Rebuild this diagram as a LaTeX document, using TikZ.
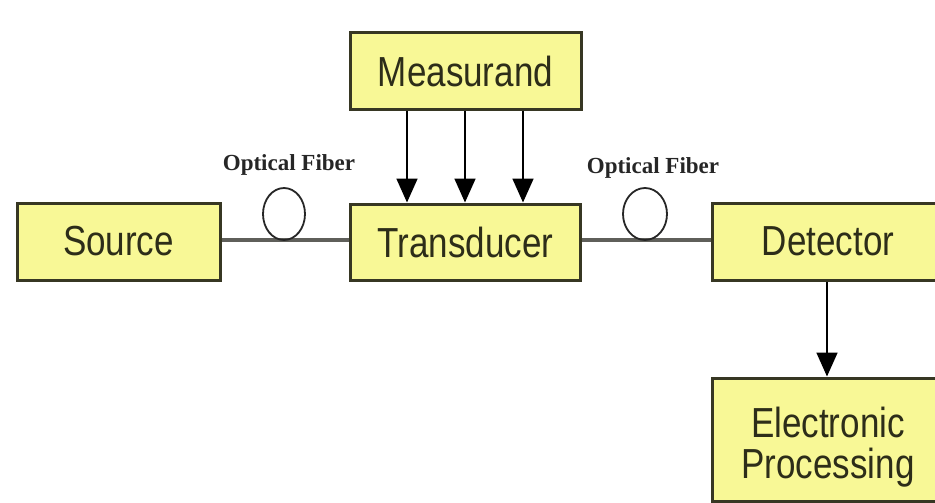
\documentclass[tikz,border=0pt]{standalone}
\usepackage{fontspec}
\setmainfont{Liberation Serif}
\setsansfont{Liberation Sans}
\usetikzlibrary{arrows.meta}
\definecolor{boxfill}{RGB}{248,248,150}
\definecolor{boxline}{RGB}{55,55,35}
\definecolor{boxtext}{RGB}{45,45,25}
\definecolor{fiber}{RGB}{95,95,90}
\tikzset{
  block/.style={draw=boxline, line width=3pt, fill=boxfill, inner sep=0pt,
    text=boxtext, font=\sffamily\fontsize{35}{40}\selectfont, align=center},
  fiberline/.style={draw=fiber, line width=3.6pt},
  loop/.style={draw=black!85, line width=1.8pt},
  flow/.style={draw=black, line width=1.8pt, -{Triangle[length=24pt, width=21pt]}},
  fiberlabel/.style={font=\bfseries\fontsize{23}{26}\selectfont, text=black!85, inner sep=0pt}
}
\newcommand{\tall}[1]{\scalebox{1}[1.2]{#1}}
\begin{document}
\begin{tikzpicture}[x=1pt, y=-1pt]
  \useasboundingbox (0,0) rectangle (935,503);
  \fill[white] (0,0) rectangle (935,503);

  % blocks
  \node[block, minimum width=203pt, minimum height=77pt] (src) at (118.5,241.5) {\tall{Source}};
  \node[block, minimum width=230pt, minimum height=76pt] (trn) at (465.5,242) {\tall{Transducer}};
  \node[block, minimum width=231pt, minimum height=76pt] (msr) at (465.5,71) {\tall{Measurand}};
  \node[block, minimum width=232pt, minimum height=77pt] (det) at (828,241.5) {\tall{Detector}};
  \node[block, minimum width=232pt, minimum height=123pt] (elp) at (828,439.5)
    {\raisebox{-9pt}[\height][\depth]{\begin{tabular}{@{}c@{}}\tall{Electronic}\\[-1pt]\tall{Processing}\end{tabular}}};

  % fibre links with coil
  \draw[fiberline] (src.east |- 0,240) -- (trn.west |- 0,240);
  \draw[fiberline] (trn.east |- 0,240) -- (det.west |- 0,240);
  \draw[loop] (284,214) ellipse [x radius=21, y radius=26];
  \draw[loop] (645,214) ellipse [x radius=22, y radius=26];
  \node[fiberlabel] (lab1) at (289,165) {Optical Fiber};
  \node[fiberlabel] (lab2) at (653,168) {Optical Fiber};

  % measurand acting on transducer
  \foreach \xx in {407,465,523}
    \draw[flow] (msr.south -| \xx,0) -- (trn.north -| \xx,0);

  % detector to processing
  \draw[flow] (det.south -| 827,0) -- (elp.north -| 827,0);
\end{tikzpicture}
\end{document}
